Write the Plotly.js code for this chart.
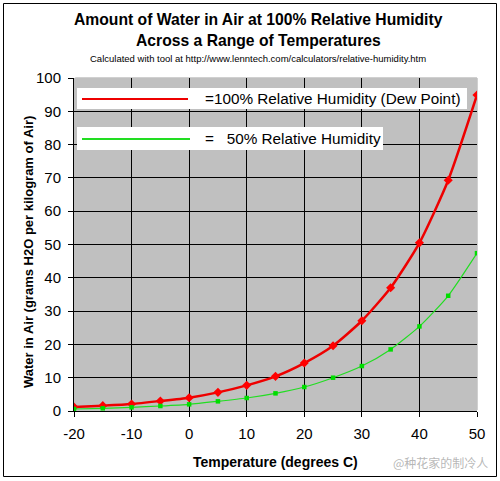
<!DOCTYPE html>
<html>
<head>
<meta charset="utf-8">
<script src="https://cdn.plot.ly/plotly-3.0.1.min.js"></script>
<style>
html,body{margin:0;padding:0;background:#fff;}
#chart{width:500px;height:481px;}
</style>
</head>
<body>
<div id="chart"></div>
<script>
// Data
const temperatures = [-20, -15, -10, -5, 0, 5, 10, 15, 20, 25, 30, 35, 40, 45, 50];
const rh100 = [1.2, 1.6, 2.1, 3.0, 4.0, 5.6, 7.7, 10.4, 14.4, 19.6, 27.1, 37.0, 50.5, 69.3, 94.9];
const rh50  = [0.6, 0.8, 1.1, 1.5, 2.0, 2.9, 3.9, 5.3, 7.2, 10.0, 13.5, 18.5, 25.4, 34.6, 47.4];
const seriesNames = ["=100% Relative Humidity (Dew Point)", "=   50% Relative Humidity"];
const xTicks = [-20, -10, 0, 10, 20, 30, 40, 50];
const yTicks = [0, 10, 20, 30, 40, 50, 60, 70, 80, 90, 100];

const W = 500, H = 481;
const M = {l: 74, r: 23, t: 78, b: 70};
const PW = W - M.l - M.r, PH = H - M.t - M.b;
const xp = px => (px - M.l) / PW;
const yp = py => (H - M.b - py) / PH;

const FONT = "Liberation Sans, Arial, Helvetica, sans-serif";

const traces = [
  {
    x: temperatures, y: rh100, name: seriesNames[0], type: "scatter", mode: "lines+markers",
    line: {color: "#ee0000", width: 2.5, shape: "spline", smoothing: 0.6},
    marker: {symbol: "diamond", size: 7, color: "#ff0000"},
    showlegend: false, hoverinfo: "x+y"
  },
  {
    x: temperatures, y: rh50, name: seriesNames[1], type: "scatter", mode: "lines+markers",
    line: {color: "#22dd22", width: 1.2, shape: "spline", smoothing: 0.6},
    marker: {symbol: "square", size: 4.5, color: "#00dd00"},
    showlegend: false, hoverinfo: "x+y"
  }
];

const shapes = [
  // outer frame
  {type: "rect", xref: "paper", yref: "paper", x0: xp(3.5), x1: xp(496.5), y0: yp(3.5), y1: yp(476.5),
   line: {color: "#000", width: 1}, fillcolor: "rgba(0,0,0,0)", layer: "below"},
  // hide gridlines on the top and right edges of the plot area
  {type: "line", xref: "paper", yref: "paper", x0: 0.003, x1: 1, y0: 1, y1: 1,
   line: {color: "#c0c0c0", width: 1.5}, layer: "between"},
  {type: "line", xref: "paper", yref: "paper", x0: 1, x1: 1, y0: 0.003, y1: 1,
   line: {color: "#c0c0c0", width: 1.5}, layer: "between"},
  // legend boxes
  {type: "rect", xref: "paper", yref: "paper", x0: xp(77), x1: xp(467), y0: yp(88), y1: yp(109),
   line: {width: 0}, fillcolor: "#fff", layer: "above"},
  {type: "rect", xref: "paper", yref: "paper", x0: xp(77), x1: xp(383), y0: yp(127), y1: yp(150),
   line: {width: 0}, fillcolor: "#fff", layer: "above"},
  {type: "line", xref: "paper", yref: "paper", x0: xp(82), x1: xp(188), y0: yp(99), y1: yp(99),
   line: {color: "#ee0000", width: 2}, layer: "above"},
  {type: "line", xref: "paper", yref: "paper", x0: xp(82), x1: xp(190), y0: yp(139), y1: yp(139),
   line: {color: "#22dd22", width: 2}, layer: "above"}
];

const ann = (text, px, py, opts) => Object.assign({
  text: text, xref: "paper", yref: "paper", x: xp(px), y: yp(py),
  showarrow: false, xanchor: "center", yanchor: "middle",
  font: {family: FONT, size: 15, color: "#000"}
}, opts || {});

const annotations = [
  ann("<b>Amount of Water in Air at 100% Relative Humidity</b>", 258, 20, {font: {family: FONT, size: 15.7, color: "#000"}}),
  ann("<b>Across a Range of Temperatures</b>", 258, 41, {font: {family: FONT, size: 15.7, color: "#000"}}),
  ann("Calculated with tool at http://www.lenntech.com/calculators/relative-humidity.htm", 258, 58, {font: {family: FONT, size: 9.5, color: "#000"}}),
  ann(seriesNames[0], 203, 98.5, {xanchor: "left", font: {family: FONT, size: 15.3, color: "#000"}}),
  ann(seriesNames[1], 203, 138.5, {xanchor: "left", font: {family: FONT, size: 15.3, color: "#000"}}),
  ann("<b>Water in Air (grams H2O per kilogram of Air)</b>", 28, 252, {textangle: -90, font: {family: FONT, size: 13, color: "#000"}}),
  ann("<b>Temperature (degrees C)</b>", 275, 462, {font: {family: FONT, size: 14, color: "#000"}}),
  ann("@种花家的制冷人", 440, 462, {font: {family: "Noto Sans CJK SC, sans-serif", size: 12, color: "rgba(170,170,170,0.85)"}})
];

const layout = {
  width: W, height: H,
  margin: M,
  paper_bgcolor: "#fff",
  plot_bgcolor: "#c0c0c0",
  font: {family: FONT, size: 15, color: "#000"},
  showlegend: false,
  xaxis: {
    range: [-20, 50], tickvals: xTicks, ticktext: xTicks.map(String),
    showgrid: true, gridcolor: "#000", gridwidth: 1,
    zeroline: false, showline: true, linecolor: "#000", linewidth: 1,
    ticks: "outside", ticklen: 5, tickcolor: "#000", ticklabelstandoff: 4,
    tickfont: {family: FONT, size: 15, color: "#000"}
  },
  yaxis: {
    range: [0, 100], tickvals: yTicks, ticktext: yTicks.map(String),
    showgrid: true, gridcolor: "#000", gridwidth: 1,
    zeroline: false, showline: true, linecolor: "#000", linewidth: 1,
    ticks: "outside", ticklen: 5, tickcolor: "#000", ticklabelstandoff: 4,
    tickfont: {family: FONT, size: 15, color: "#000"}
  },
  shapes: shapes,
  annotations: annotations
};

Plotly.newPlot("chart", traces, layout, {staticPlot: true, displayModeBar: false});
</script>
</body>
</html>
